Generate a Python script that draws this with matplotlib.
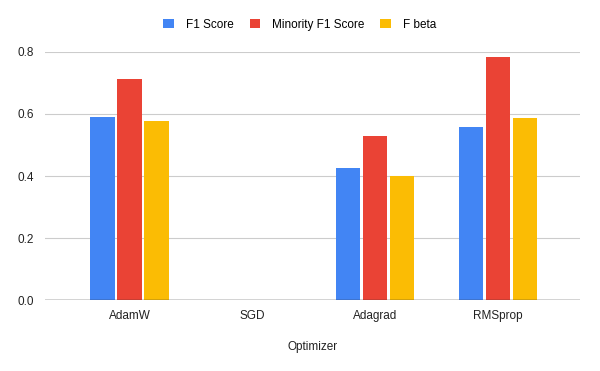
import matplotlib.pyplot as plt
import numpy as np

plt.rcParams['font.family'] = ['Liberation Sans', 'DejaVu Sans']

optimizers = ['AdamW', 'SGD', 'Adagrad', 'RMSprop']
f1 = [0.589, 0, 0.426, 0.558]
minority_f1 = [0.712, 0, 0.530, 0.785]
f_beta = [0.577, 0, 0.401, 0.587]

series = [('F1 Score', f1, '#4285F4'),
          ('Minority F1 Score', minority_f1, '#EA4335'),
          ('F beta', f_beta, '#FBBC04')]

fig = plt.figure(figsize=(6, 3.71), dpi=100)
ax = fig.add_axes([0.075, 0.191, 0.892, 0.669])

x = np.arange(len(optimizers))
w = 0.2
for i, (name, vals, col) in enumerate(series):
    ax.bar(x + (i - 1) * 0.22, vals, w, color=col, label=name, zorder=3)

ax.set_xlim(-0.69, 3.67)
ax.set_ylim(0, 0.8)
ax.set_yticks([0, 0.2, 0.4, 0.6, 0.8])
ax.set_yticklabels(['0.0', '0.2', '0.4', '0.6', '0.8'])
ax.set_xticks(x)
ax.set_xticklabels(optimizers)
ax.grid(axis='y', color='#cccccc', linewidth=0.8, zorder=0)
ax.axhline(0, color='#333333', linewidth=1, zorder=4)
for s in ax.spines.values():
    s.set_visible(False)
ax.tick_params(axis='both', length=0, labelsize=8.5, colors='#222222')
ax.tick_params(axis='y', pad=8)
ax.tick_params(axis='x', pad=7)
ax.set_xlabel('Optimizer', fontsize=8.5, color='#222222', labelpad=14)

ax.legend(loc='center', bbox_to_anchor=(0.476, 1.11), ncol=3, frameon=False,
          fontsize=8.5, handlelength=0.9, handleheight=0.9, columnspacing=1.35,
          handletextpad=1.0)

fig.savefig('out.png', dpi=100)
